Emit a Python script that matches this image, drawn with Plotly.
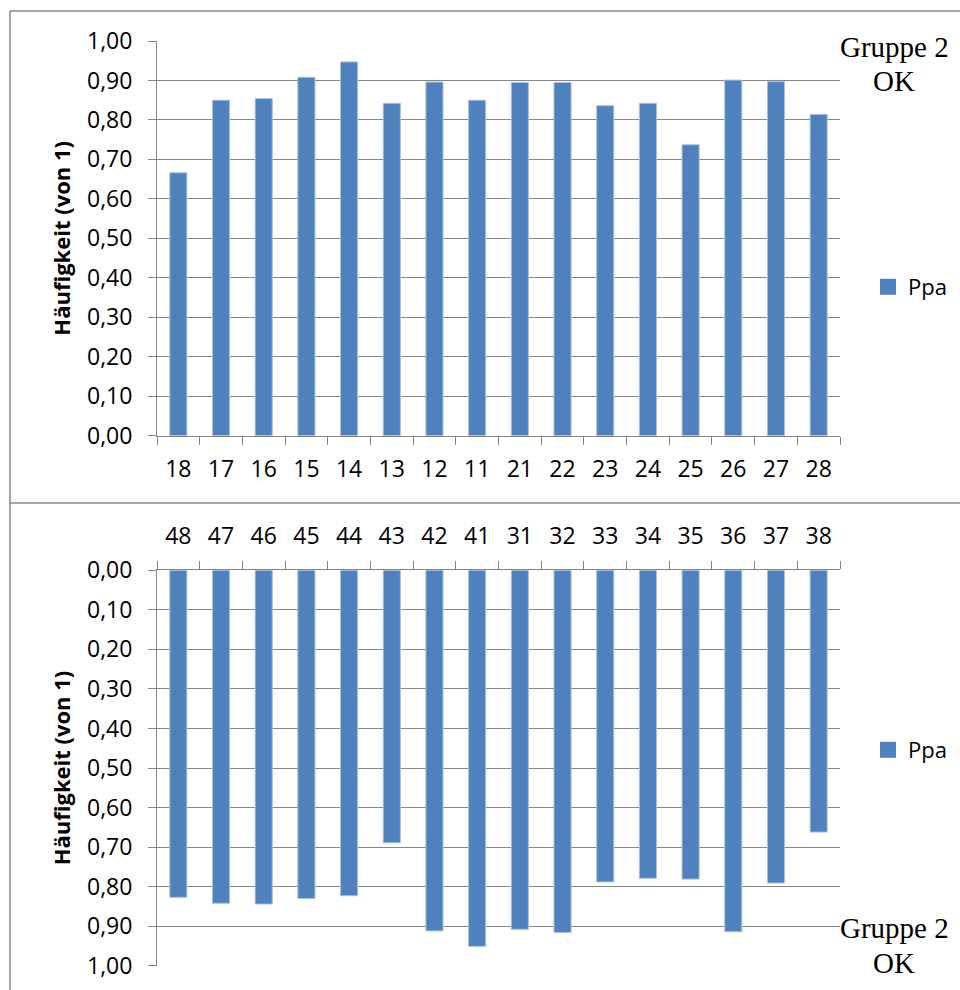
import plotly.graph_objects as go

# Upper jaw (teeth 18..11, 21..28) and lower jaw (48..41, 31..38)
upper_teeth = ["18", "17", "16", "15", "14", "13", "12", "11",
               "21", "22", "23", "24", "25", "26", "27", "28"]
upper_ppa = [0.666, 0.850, 0.854, 0.908, 0.947, 0.842, 0.896, 0.850,
             0.895, 0.895, 0.836, 0.842, 0.737, 0.901, 0.897, 0.814]

lower_teeth = ["48", "47", "46", "45", "44", "43", "42", "41",
               "31", "32", "33", "34", "35", "36", "37", "38"]
lower_ppa = [0.827, 0.842, 0.844, 0.830, 0.823, 0.689, 0.912, 0.951,
             0.908, 0.916, 0.788, 0.779, 0.781, 0.914, 0.791, 0.662]

y_ticks = [round(i * 0.1, 1) for i in range(11)]
series_name = "Ppa"
group_label = ["Gruppe 2", "OK"]

W, H = 960, 990
BAR = "#4F81BD"
GRID = "#868686"
FRAME = "#898989"
SANS = "Open Sans"
SERIF = "Liberation Serif"


def px_x(x):
    return x / W


def px_y(y):
    return 1 - y / H


fig = go.Figure()

fig.add_trace(go.Bar(x=upper_teeth, y=upper_ppa, xaxis="x", yaxis="y",
                     marker=dict(color=BAR, line=dict(color="#A7C0DE", width=1)),
                     width=0.4, showlegend=False, name=series_name))
fig.add_trace(go.Bar(x=lower_teeth, y=lower_ppa, xaxis="x2", yaxis="y2",
                     marker=dict(color=BAR, line=dict(color="#A7C0DE", width=1)),
                     width=0.4, showlegend=False, name=series_name))

# legend entries (square swatches) for each panel
fig.add_trace(go.Scatter(x=[None], y=[None], xaxis="x", yaxis="y", mode="markers",
                         marker=dict(symbol="square", size=16, color=BAR),
                         name=series_name, legend="legend"))
fig.add_trace(go.Scatter(x=[None], y=[None], xaxis="x2", yaxis="y2", mode="markers",
                         marker=dict(symbol="square", size=16, color=BAR),
                         name=series_name, legend="legend2"))

tick_font = dict(family=SANS, size=23, color="#000000")
title_font = dict(family=SANS, size=22, color="#000000", weight="bold")

common_y = dict(tickvals=y_ticks, tickformat=".2f", ticks="outside", ticklen=8,
                tickcolor=GRID, tickwidth=1, showline=True, linecolor=GRID,
                linewidth=1, showgrid=True, gridcolor=GRID, gridwidth=1,
                zeroline=False, tickfont=tick_font, ticklabelstandoff=11,
                automargin=False,
                title=dict(text="Häufigkeit (von 1)", font=title_font, standoff=10))
common_x = dict(type="category", tickson="boundaries", ticks="outside", ticklen=8,
                tickcolor=GRID, tickwidth=1, showline=True, linecolor=GRID,
                linewidth=1, showgrid=False, zeroline=False, tickfont=tick_font,
                automargin=False)

x_dom = [px_x(157), px_x(840)]

fig.update_layout(
    width=W, height=H, margin=dict(l=0, r=0, t=0, b=0, pad=0),
    paper_bgcolor="white", plot_bgcolor="white",
    separators=", ", bargap=0.6,
    xaxis=dict(domain=x_dom, anchor="y", ticklabelstandoff=13, **common_x),
    yaxis=dict(domain=[px_y(435.7), px_y(41)], anchor="x", range=[0, 1], **common_y),
    xaxis2=dict(domain=x_dom, anchor="y2", side="top", ticklabelstandoff=16, **common_x),
    yaxis2=dict(domain=[px_y(965.7), px_y(570.3)], anchor="x2", range=[1, 0], **common_y),
    legend=dict(x=px_x(868), y=px_y(287), xanchor="left", yanchor="middle",
                font=dict(family=SANS, size=22, color="#000000"),
                bgcolor="rgba(0,0,0,0)", itemsizing="trace"),
    legend2=dict(x=px_x(868), y=px_y(750), xanchor="left", yanchor="middle",
                 font=dict(family=SANS, size=22, color="#000000"),
                 bgcolor="rgba(0,0,0,0)", itemsizing="trace"),
)

# panel frames
frame = dict(type="line", xref="paper", yref="paper",
             line=dict(color=FRAME, width=1.5))
fig.add_shape(x0=px_x(10), x1=1, y0=px_y(11), y1=px_y(11), **frame)
fig.add_shape(x0=px_x(10), x1=1, y0=px_y(503), y1=px_y(503), **frame)
fig.add_shape(x0=px_x(10), x1=px_x(10), y0=0, y1=px_y(11), **frame)

# group captions
serif_font = dict(family=SERIF, size=29, color="#000000")
for txt, yc in zip(group_label, [47, 81]):
    fig.add_annotation(text=txt, xref="paper", yref="paper", x=px_x(894), y=px_y(yc),
                       xanchor="center", yanchor="middle", showarrow=False, font=serif_font)
for txt, yc in zip(group_label, [928, 963]):
    fig.add_annotation(text=txt, xref="paper", yref="paper", x=px_x(894), y=px_y(yc),
                       xanchor="center", yanchor="middle", showarrow=False, font=serif_font)

fig.write_html("out.html")
